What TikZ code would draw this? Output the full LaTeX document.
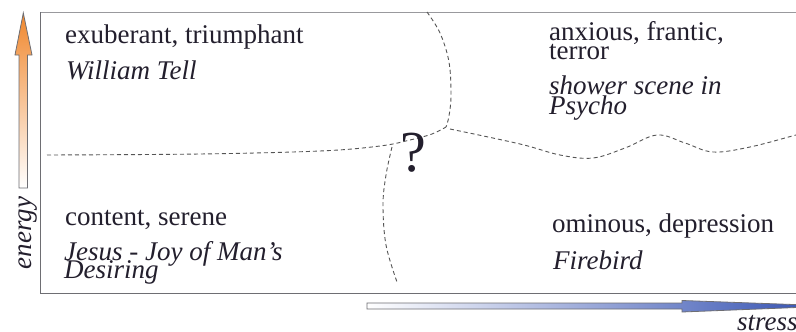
\documentclass[tikz,border=0pt]{standalone}
\usepackage{fontspec}
\setmainfont{Liberation Serif}
\begin{document}
\begin{tikzpicture}[x=1pt,y=-1pt,
  txt/.style={anchor=base west,inner sep=0pt,text=ink,font=\fontsize{27}{27}\selectfont},
  itxt/.style={txt,font=\fontsize{27}{27}\selectfont\itshape},
  sep/.style={draw=dashgray,line width=0.9pt,dash pattern=on 4pt off 3pt},
  frame/.style={draw=framegray,line width=1pt}]
\definecolor{ink}{RGB}{35,31,45}
\definecolor{dashgray}{RGB}{85,85,85}
\definecolor{framegray}{RGB}{110,110,115}
\definecolor{energyorange}{RGB}{240,135,45}
\definecolor{stressblue}{RGB}{45,75,175}
\useasboundingbox (0,0) rectangle (796,332);
\clip (0,0) rectangle (796,332);
\fill[white] (0,0) rectangle (796,332);
% frame
\draw[frame,draw=framegray!70] (812,12) -- (40,12);
\draw[frame] (40,12) -- (40,293) -- (812,293);
% separators
\draw[sep] plot[smooth,tension=0.6] coordinates {(47,155)(200,154)(320,151)(380,146)(410,140)(432,134)(446,127)};
\draw[sep] plot[smooth,tension=0.6] coordinates {(427,12)(440,33)(449,62)(451,95)(449,116)(446,127)};
\draw[sep] plot[smooth,tension=0.6] coordinates {(450,129)(520,144)(560,155)(593,158)(625,148)(657,135)(685,143)(713,152)(750,147)(796,135)(812,131)};
\draw[sep] plot[smooth,tension=0.6] coordinates {(392,147)(386,175)(383,205)(386,245)(397,282)};
% question mark
\node[anchor=base,inner sep=0pt,text=ink,font=\fontsize{58}{58}\selectfont] (q) at (413,171) {?};
% energy arrow
\shadedraw[draw=framegray,line width=0.8pt,top color=energyorange,bottom color=white]
  (19,188) -- (27.5,188) -- (27.5,55) -- (32,55) -- (23.3,13) -- (15,55) -- (19,55) -- cycle;
\node[anchor=base,rotate=90,inner sep=0pt,text=ink,font=\fontsize{27}{27}\selectfont\itshape] (energy) at (31,233) {energy};
% stress arrow
\shadedraw[draw=framegray,line width=0.8pt,left color=white,right color=stressblue]
  (367,303) -- (682,303) -- (682,300.5) -- (835,306) -- (682,312) -- (682,309) -- (367,309) -- cycle;
\node[itxt] (stress) at (737,330) {stress};
% quadrant texts
\node[txt] (t1) at (65,43.5) {exuberant, triumphant};
\node[itxt] (t1b) at (66,79) {William Tell};
\node[txt] (t2) at (549,41) {anxious, frantic,};
\node[txt] (t2a) at (549,59) {terror};
\node[itxt] (t2b) at (549,94) {shower scene in};
\node[itxt] (t2c) at (549,114) {Psycho};
\node[txt] (t3) at (65,225) {content, serene};
\node[itxt] (t3b) at (64,260) {Jesus - Joy of Man’s};
\node[itxt] (t3c) at (64,278) {Desiring};
\node[txt] (t4) at (552,232) {ominous, depression};
\node[itxt] (t4b) at (553,269) {Firebird};
\end{tikzpicture}
\end{document}
